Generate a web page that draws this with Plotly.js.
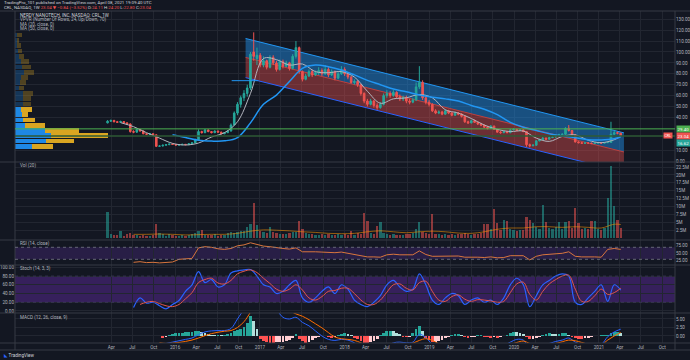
<!DOCTYPE html>
<html><head><meta charset="utf-8">
<script src="https://cdn.plot.ly/plotly-3.0.1.min.js"></script>
<style>html,body{margin:0;padding:0;background:#131722;}#chart{width:690px;height:360px;}</style>
</head><body><div id="chart"></div>
<script>
// ---------- data ----------
const firstBarDate = '2015-03-16';
const barDays = 14;
const opens = [35.0,36.5,37.2,36.0,35.5,36.2,35.0,34.0,27.0,26.5,
 29.0,27.5,25.0,24.5,25.0,24.0,13.5,13.8,14.5,15.0,
 15.5,15.2,14.6,14.9,15.3,15.0,15.8,16.6,19.5,27.0,
 26.0,28.5,27.0,26.0,27.5,26.5,25.0,26.0,27.5,33.0,
 44.0,52.0,58.0,62.0,67.0,100.0,94.0,97.0,88.0,92.0,
 86.0,95.0,90.0,84.0,91.0,87.0,90.0,85.0,96.0,104.0,
 82.0,75.0,78.0,82.0,79.0,81.0,83.0,80.0,84.0,79.0,
 82.0,76.0,80.0,84.0,80.0,77.0,72.0,73.0,70.0,62.0,
 55.0,52.0,55.0,51.0,49.0,52.0,60.0,62.0,60.0,63.0,
 59.0,57.0,58.0,55.0,54.0,56.0,68.0,72.0,58.0,54.0,
 52.0,46.0,44.0,45.0,43.0,46.0,44.0,42.0,44.0,43.0,
 41.0,36.0,35.0,37.0,35.5,34.0,33.0,31.0,30.0,32.0,
 29.0,26.5,26.0,27.0,26.0,28.5,29.0,28.0,28.5,27.0,
 15.0,14.0,14.5,18.5,19.5,21.0,20.0,21.5,22.0,23.5,
 24.0,24.5,30.0,28.0,24.0,17.5,16.8,16.2,16.6,16.4,
 16.0,16.5,16.7,16.4,16.8,17.0,24.5,26.0,25.5];
const closes = [36.5,37.2,36.0,35.5,36.2,35.0,34.0,27.0,26.5,29.0,
 27.5,25.0,24.5,25.0,24.0,13.5,13.8,14.5,15.0,15.5,
 15.2,14.6,14.9,15.3,15.0,15.8,16.6,19.5,27.0,26.0,
 28.5,27.0,26.0,27.5,26.5,25.0,26.0,27.5,33.0,44.0,
 52.0,58.0,62.0,67.0,98.0,96.0,97.0,88.0,92.0,86.0,
 95.0,90.0,84.0,91.0,87.0,90.0,85.0,96.0,104.0,82.0,
 75.0,78.0,82.0,79.0,81.0,83.0,80.0,84.0,79.0,82.0,
 76.0,80.0,84.0,80.0,77.0,72.0,73.0,70.0,62.0,55.0,
 52.0,55.0,51.0,49.0,52.0,60.0,62.0,60.0,63.0,59.0,
 57.0,58.0,55.0,54.0,56.0,68.0,72.0,58.0,54.0,52.0,
 46.0,44.0,45.0,43.0,46.0,44.0,42.0,44.0,43.0,41.0,
 36.0,35.0,37.0,35.5,34.0,33.0,31.0,30.0,32.0,29.0,
 26.5,26.0,27.0,26.0,28.5,29.0,28.0,28.5,27.0,15.0,
 14.0,14.5,18.5,19.5,21.0,20.0,21.5,22.0,23.5,24.0,
 24.5,30.0,28.0,24.0,17.5,16.8,16.2,16.6,16.4,16.0,
 16.5,16.7,16.4,16.8,17.0,24.5,26.0,25.5,23.0];
const highs = [37.5,38.0,37.8,36.8,37.0,36.6,35.4,34.5,28.2,29.8,
 29.5,27.9,25.6,25.8,25.4,24.3,14.6,15.0,15.6,16.2,
 16.0,15.5,15.4,15.8,15.6,16.3,17.2,20.5,29.0,27.8,
 29.4,28.9,27.4,28.2,27.9,26.9,26.6,28.2,34.5,45.5,
 54.0,60.0,65.0,70.0,100.0,118.0,104.0,99.0,96.0,93.0,
 97.0,97.0,92.0,93.0,93.0,92.0,91.0,98.0,110.0,105.0,
 83.0,80.0,84.0,84.0,83.0,86.0,85.0,88.0,86.0,84.0,
 83.0,82.0,87.0,86.0,81.0,78.0,75.0,74.0,71.0,63.0,
 57.0,57.0,56.0,53.0,54.0,62.0,65.0,64.0,65.0,64.0,
 61.0,60.0,60.0,57.0,58.0,72.0,87.0,74.0,60.0,56.0,
 53.0,47.5,46.5,46.0,47.5,47.0,45.0,45.5,45.0,44.0,
 41.5,37.0,38.0,38.0,36.0,35.0,33.5,32.0,33.0,32.5,
 29.5,27.5,28.0,27.5,29.5,30.0,29.5,29.0,29.0,27.5,
 16.0,15.5,19.0,20.5,22.0,21.5,22.5,23.0,24.5,25.0,
 25.5,31.0,33.0,28.5,24.5,18.0,17.5,17.2,17.0,16.9,
 17.0,17.2,17.0,17.3,17.5,36.0,28.0,27.0,26.0];
const lows = [34.5,35.8,35.5,35.0,35.1,34.6,33.2,26.0,25.5,26.0,
 27.0,24.6,23.8,24.1,23.5,12.8,12.9,13.4,14.2,14.6,
 14.8,14.2,14.3,14.7,14.5,14.8,15.6,16.4,19.0,25.2,
 25.5,26.4,25.4,25.6,26.0,24.5,24.6,25.6,27.0,32.5,
 42.0,49.0,55.0,59.0,65.0,92.0,88.0,86.0,86.0,84.0,
 85.0,88.0,82.0,83.0,85.0,86.0,83.0,84.0,94.0,80.0,
 73.0,74.0,77.0,77.0,78.0,79.0,78.0,79.0,77.0,78.0,
 74.0,75.0,79.0,78.0,75.0,71.0,70.0,68.0,60.0,53.0,
 50.0,51.0,49.0,47.0,48.0,51.0,58.0,58.0,59.0,57.0,
 55.0,55.0,53.0,52.0,53.0,55.0,66.0,56.0,52.0,50.0,
 45.0,43.0,43.0,42.0,42.5,43.0,41.0,41.5,42.0,40.0,
 35.0,34.0,34.5,35.0,33.0,32.0,30.5,29.0,29.5,28.5,
 26.0,25.0,25.5,25.5,25.5,28.0,27.5,27.5,26.5,13.0,
 12.5,13.5,14.0,18.0,19.0,19.5,19.5,21.0,21.5,23.0,
 23.5,24.0,27.0,23.5,17.0,16.2,15.8,15.9,15.9,15.6,
 15.8,16.2,16.0,16.2,16.5,16.8,24.0,24.5,22.8];
const volumesM = [8.2,1.2,0.9,1.0,2.2,0.8,1.3,1.5,0.9,1.1,
 0.8,1.0,0.7,0.8,0.9,4.4,1.5,1.2,0.8,1.3,
 0.9,0.7,0.8,1.0,0.7,0.9,1.2,1.5,2.3,2.5,
 1.1,0.9,1.0,1.2,0.8,1.0,1.1,1.5,1.8,1.6,
 2.0,2.4,2.2,3.6,4.6,11.2,4.1,2.2,1.8,1.5,
 3.6,2.0,1.6,1.4,1.2,1.3,1.5,2.0,1.8,5.4,
 3.0,1.6,1.3,1.2,1.0,1.1,1.4,1.0,1.2,0.9,
 1.1,1.3,1.0,1.2,1.0,2.3,1.1,1.5,1.3,8.0,
 5.4,1.5,1.2,3.9,5.1,1.6,1.2,1.0,1.3,1.1,
 0.9,1.0,1.2,1.4,1.6,3.0,5.0,2.0,1.5,1.3,
 7.5,1.4,1.2,1.0,1.3,1.1,1.2,1.0,1.4,1.2,
 1.5,1.3,1.1,1.2,1.4,1.6,4.4,4.4,3.0,9.1,
 4.7,2.5,5.7,5.5,2.8,2.5,2.3,2.6,2.5,6.8,
 5.7,4.7,3.5,3.0,10.5,5.1,3.2,2.8,3.5,5.2,
 3.0,5.1,5.4,3.3,9.5,4.7,2.8,3.2,3.0,5.4,
 5.4,3.0,2.6,3.2,12.6,22.9,10.2,5.7,3.2];
// sampled every 4th bar (plus last bar)
const volMA20 = [null,null,1.2,1.2,1.3,1.2,1.0,1.1,1.2,1.2,1.5,2.2,2.6,2.5,2.3,2.0,1.8,1.5,1.4,1.5,
 2.0,2.3,2.0,1.7,2.0,2.2,2.0,1.6,1.5,2.0,2.8,3.2,3.2,3.6,3.6,3.4,3.6,3.4,3.2,4.4,4.3];
const maFast = [null,35.2,31.5,26.0,21.0,16.2,14.7,16.5,22.0,26.0,36.0,62.0,94.0,93.0,88.0,89.0,82.0,81.0,82.0,77.0,
 64.0,53.0,57.0,58.0,61.0,58.0,47.0,44.0,39.0,33.0,29.0,27.0,27.5,21.0,18.0,22.5,24.0,19.0,16.8,19.5,22.5];
const maSlow = [null,null,null,null,null,24.0,21.5,19.0,18.3,18.5,21.5,35.0,52.0,60.5,73.0,85.0,88.0,86.5,83.5,79.0,
 74.0,70.0,66.0,63.5,60.5,58.5,57.0,55.0,51.0,47.5,42.5,35.5,31.0,28.0,25.0,23.0,21.4,19.5,19.3,20.5,22.3];
// sampled every 2nd bar
const rsi14 = [null,null,null,null,20,22,19,20,18,19,21,30,31,33,68,72,70,65,63,66,75,78,85,80,74,72,68,66,64,68,
 55,56,55,54,53,52,54,50,47,42,38,38,37,45,47,45,44,45,58,46,40,40,41,40,41,37,38,37,36,38,
 35,36,42,43,42,28,40,45,47,49,50,55,40,38,39,38,37,63,66,63];
const stochK = [null,null,null,null,8,30,18,20,12,5,15,24,45,60,90,65,72,55,60,87,92,94,95,80,60,55,40,45,60,70,
 30,20,30,45,55,40,60,50,25,15,10,20,35,60,70,55,45,50,85,60,25,15,30,40,35,15,25,30,20,25,
 15,30,60,75,60,10,35,60,70,80,85,80,20,15,30,45,60,22,60,48];
const stochD = [null,null,null,null,null,15,20,22,17,12,10,15,28,42,65,72,75,64,62,70,85,91,94,88,75,63,50,45,50,60,
 48,30,25,33,45,47,52,52,40,25,15,15,25,43,60,62,52,48,65,68,45,25,22,33,37,27,22,26,25,23,
 20,22,42,62,66,38,25,45,62,72,80,82,50,22,22,35,50,38,42,52];
const macdLine = [null,null,null,null,null,null,null,null,-2.5,-2.2,-1.8,-1.4,-1.0,-0.6,0.4,1.2,1.5,1.6,1.6,2.2,
 5.0,8.0,13.0,17.0,18.0,12.0,8.0,5.5,5.0,5.5,4.0,3.0,1.5,0.0,-1.0,-1.3,-1.0,-1.2,-2.0,-3.5,
 -5.0,-6.0,-5.0,-3.0,-2.0,-1.8,-2.0,-1.8,0.5,-0.5,-2.5,-4.0,-4.2,-3.5,-3.0,-3.2,-3.5,-3.3,-3.0,-3.0,
 -3.2,-2.8,-1.8,-1.0,-1.2,-3.5,-4.0,-3.0,-2.2,-1.6,-1.2,-0.6,-1.8,-2.5,-2.8,-2.8,-2.5,-0.2,1.2,2.0];
const macdSignal = [null,null,null,null,null,null,null,null,-2.0,-2.2,-2.1,-1.9,-1.6,-1.2,-0.6,0.1,0.7,1.1,1.4,1.6,
 2.5,4.2,7.0,10.5,13.5,14.5,13.0,9.0,7.5,6.5,5.8,4.8,3.6,2.4,1.0,-0.3,-0.8,-1.0,-1.3,-2.0,
 -3.0,-4.2,-4.8,-4.4,-3.6,-2.8,-2.4,-2.1,-1.3,-0.8,-1.3,-2.3,-3.2,-3.5,-3.3,-3.2,-3.3,-3.3,-3.2,-3.1,
 -3.1,-3.0,-2.6,-1.9,-1.5,-2.2,-3.0,-3.2,-2.8,-2.2,-1.7,-1.2,-1.4,-1.9,-2.4,-2.6,-2.6,-1.2,0.0,1.0];
const macdHist = [null,null,null,null,null,null,null,null,null,null,null,null,null,null,null,null,null,
 -0.5,-0.4,0.3,0.6,0.8,1.0,1.0,1.1,1.2,1.3,
 1.4,1.5,1.3,1.0,0.6,0.4,0.3,0.3,0.2,0.3,
 0.5,0.9,1.4,1.8,2.2,2.6,3.8,6.0,4.5,2.2,
 -0.8,-1.5,-1.9,-2.0,-2.0,-1.9,-1.8,-1.7,-1.6,-1.2,
 -0.6,0.5,-0.8,-1.6,-2.0,-1.8,-1.2,-0.6,-0.2,0.1,
 -0.1,-0.4,-0.5,-0.3,0.2,0.6,0.8,0.7,0.3,-0.5,
 -1.0,-1.6,-2.0,-2.0,-1.8,-1.4,-0.8,0.3,0.9,1.4,
 1.5,1.4,1.0,0.5,-0.2,-0.4,-0.3,0.8,2.0,2.8,
 1.5,-0.5,-1.2,-1.8,-1.7,-1.5,-1.1,-0.7,-0.3,0.3,
 0.5,0.6,0.3,-0.3,-0.5,-0.4,-0.2,0.2,0.3,-0.2,
 -0.4,-0.5,-0.4,-0.5,-0.3,-0.1,0.4,0.9,1.3,1.2,
 0.9,0.5,-0.4,-1.0,-0.9,-0.6,-0.2,0.3,0.6,0.8,
 0.7,0.6,0.6,0.8,0.9,0.3,-0.3,-0.7,-0.8,-0.8,
 -0.7,-0.5,-0.3,-0.1,0.1,0.2,0.3,0.4,0.9,1.1,
 1.1,1.0];
// volume profile (rows from bottom), up / down volume
const vpPrices = [13.4,18.3,23.2,28.0,32.9,37.7,42.6,47.5,52.3,57.2,62.0,66.9,71.8,76.6,81.5,86.3,91.2,96.1,100.9,105.8,110.6,115.5];
const vpUp   = [33,61,71,60,20,15,13,11,16,16,16,8,10,12,18,14,12,7,5,4,3,3];
const vpDown = [43,57,114,67,39,25,13,22,15,15,19,9,12,13,19,18,15,10,9,7,5,10];
const vpValueArea = [1,1,1,1,1,1,1,1,0,0,0,0,0,0,0,0,0,0,0,0,0,0];
// regression channel
const channelDates = ['2016-10-31','2021-04-19'];
const channelTop = [112.4, 25.8];
const channelMid = [95.0, 8.3];
const channelBot = [76.5, -10.1];
const levelLines = [29.5, 23.0];
const shortLineDates = ['2016-09-01','2016-12-25'];
const shortLineLevel = 73.7;
const tickDates = ['2015-04-01','2015-07-01','2015-10-01','2016-01-01','2016-04-01','2016-07-01','2016-10-01',
 '2017-01-01','2017-04-01','2017-07-01','2017-10-01','2018-01-01','2018-04-01','2018-07-01','2018-10-01',
 '2019-01-01','2019-04-01','2019-07-01','2019-10-01','2020-01-01','2020-04-01','2020-07-01','2020-10-01',
 '2021-01-01','2021-04-01','2021-07-01','2021-10-01'];
const tickLabels = ['Apr','Jul','Oct','2016','Apr','Jul','Oct','2017','Apr','Jul','Oct','2018','Apr','Jul','Oct',
 '2019','Apr','Jul','Oct','2020','Apr','Jul','Oct','2021','Apr','Jul','Oct'];
const volTicks = [2.5,5,7.5,10,12.5,15,17.5,20,22.5];
const volTickLabels = ['2.5M','5M','7.5M','10M','12.5M','15M','17.5M','20M','22.5M'];

// ---------- build ----------
const t0 = new Date(firstBarDate + 'T00:00:00Z').getTime();
const dates = closes.map((_, i) => new Date(t0 + i * barDays * 86400000).toISOString().slice(0, 10));
function sampleIdx(n) { const a = []; for (let i = 0; i < dates.length; i += n) a.push(i); if (a[a.length-1] !== dates.length-1) a.push(dates.length-1); return a; }
const idx4 = sampleIdx(4).map(i => dates[i]);
const idx2 = sampleIdx(2).map(i => dates[i]);

const UP = '#26a69a', DN = '#ef5350';
const TXT = '#b2b5be', GRID = '#222631', SEP = '#363a45';
const FONT = 'Roboto, "DejaVu Sans", sans-serif';
const xr = ['2014-02-10', '2021-11-25'];

const volColors = closes.map((c, i) => c >= opens[i] ? 'rgba(38,166,154,0.55)' : 'rgba(239,83,80,0.55)');
const histColors = macdHist.map((v, i) => {
  if (v == null) return 'rgba(0,0,0,0)';
  const p = (i > 0 && macdHist[i-1] != null) ? macdHist[i-1] : 0;
  return v >= 0 ? (v >= p ? '#26a69a' : '#b2dfdb') : (v <= p ? '#ff5252' : '#ffcdd2');
});
const vpUpCol = vpValueArea.map(a => a ? '#1e88e5' : 'rgba(30,136,229,0.28)');
const vpDnCol = vpValueArea.map(a => a ? '#d9a521' : 'rgba(217,165,33,0.30)');

const traces = [
  // regression channel (base subplot, below candles)
  {type:'scatter', mode:'lines', x:channelDates, y:channelBot, xaxis:'x', yaxis:'y', line:{color:'#2962ff', width:1}, hoverinfo:'skip'},
  {type:'scatter', mode:'lines', x:channelDates, y:channelMid, xaxis:'x', yaxis:'y', line:{color:'#c2403d', width:1}, fill:'tonexty', fillcolor:'rgba(239,83,80,0.40)', hoverinfo:'skip'},
  {type:'scatter', mode:'lines', x:channelDates, y:channelTop, xaxis:'x', yaxis:'y', line:{color:'#2196f3', width:1}, fill:'tonexty', fillcolor:'rgba(33,150,243,0.45)', hoverinfo:'skip'},
  // candles on overlay axis
  {type:'candlestick', x:dates, open:opens, high:highs, low:lows, close:closes, xaxis:'x3', yaxis:'y',
   increasing:{line:{color:UP, width:1}, fillcolor:UP}, decreasing:{line:{color:DN, width:1}, fillcolor:DN},
   whiskerwidth:0, hoverinfo:'skip'},
  {type:'scatter', mode:'lines', x:idx4, y:maFast, xaxis:'x3', yaxis:'y', line:{color:'#b2b5be', width:1, shape:'spline'}, hoverinfo:'skip'},
  {type:'scatter', mode:'lines', x:idx4, y:maSlow, xaxis:'x3', yaxis:'y', line:{color:'#2196f3', width:1.5, shape:'spline'}, hoverinfo:'skip'},
  // volume profile
  {type:'bar', orientation:'h', y:vpPrices, x:vpUp, xaxis:'x2', yaxis:'y', width:4.4, marker:{color:vpUpCol}, hoverinfo:'skip'},
  {type:'bar', orientation:'h', y:vpPrices, x:vpDown, xaxis:'x2', yaxis:'y', width:4.4, marker:{color:vpDnCol}, hoverinfo:'skip'},
  // volume
  {type:'bar', x:dates, y:volumesM, xaxis:'x', yaxis:'y2', width:barDays*86400000*0.7, marker:{color:volColors}, hoverinfo:'skip'},
  {type:'scatter', mode:'lines', x:idx4, y:volMA20, xaxis:'x', yaxis:'y2', line:{color:'rgba(255,152,0,0.55)', width:1, shape:'spline'}, hoverinfo:'skip'},
  // RSI
  {type:'scatter', mode:'lines', x:idx2, y:rsi14, xaxis:'x', yaxis:'y3', line:{color:'#d8763e', width:1}, hoverinfo:'skip'},
  // Stoch
  {type:'scatter', mode:'lines', x:idx2, y:stochK, xaxis:'x', yaxis:'y4', line:{color:'#2962ff', width:1.2, shape:'spline'}, hoverinfo:'skip'},
  {type:'scatter', mode:'lines', x:idx2, y:stochD, xaxis:'x', yaxis:'y4', line:{color:'#e2574c', width:1, shape:'spline'}, hoverinfo:'skip'},
  // MACD
  {type:'bar', x:dates, y:macdHist, xaxis:'x', yaxis:'y5', width:barDays*86400000*0.85, marker:{color:histColors}, hoverinfo:'skip'},
  {type:'scatter', mode:'lines', x:idx2, y:macdLine, xaxis:'x', yaxis:'y5', line:{color:'#2962ff', width:1, shape:'spline'}, hoverinfo:'skip'},
  {type:'scatter', mode:'lines', x:idx2, y:macdSignal, xaxis:'x', yaxis:'y5', line:{color:'#ff6d00', width:1, shape:'spline'}, hoverinfo:'skip'}
];

const py = p => (343 - p) / 332;   // pixel row -> paper y
const px = p => (p - 15) / 660;    // pixel col -> paper x
const tickFont = {family:FONT, size:4.6, color:TXT};
const yBase = {showgrid:true, gridcolor:GRID, zeroline:false, showline:false, ticks:'', fixedrange:true, tickfont:tickFont, automargin:false};

const shapes = [];
// pane separators
[11, 162, 240, 265, 313, 343, 350].forEach(v => shapes.push({type:'line', xref:'paper', yref:'paper', x0:px(0), x1:px(690), y0:py(v), y1:py(v), line:{color:SEP, width:1}}));
[15, 675].forEach(v => shapes.push({type:'line', xref:'paper', yref:'paper', x0:px(v), x1:px(v), y0:py(11), y1:py(350), line:{color:SEP, width:1}}));
// RSI band
shapes.push({type:'rect', xref:'paper', yref:'y3', x0:0, x1:1, y0:30, y1:70, fillcolor:'rgba(120,60,200,0.22)', line:{width:0}, layer:'below'});
[30, 70].forEach(v => shapes.push({type:'line', xref:'paper', yref:'y3', x0:0, x1:1, y0:v, y1:v, line:{color:'#787b86', width:0.8, dash:'dot'}}));
// Stoch band
shapes.push({type:'rect', xref:'paper', yref:'y4', x0:0, x1:1, y0:20, y1:80, fillcolor:'rgba(120,50,200,0.35)', line:{width:0}, layer:'below'});
[20, 80].forEach(v => shapes.push({type:'line', xref:'paper', yref:'y4', x0:0, x1:1, y0:v, y1:v, line:{color:'#4a3f6b', width:0.6, dash:'dot'}}));
// horizontal levels
shapes.push({type:'line', xref:'paper', yref:'y', x0:0, x1:1, y0:levelLines[0], y1:levelLines[0], line:{color:'#4caf50', width:1}});
shapes.push({type:'line', xref:'paper', yref:'y', x0:0, x1:1, y0:levelLines[1], y1:levelLines[1], line:{color:'#2e5a34', width:1.6}});
shapes.push({type:'line', xref:'x', yref:'y', x0:shortLineDates[0], x1:shortLineDates[1], y0:shortLineLevel, y1:shortLineLevel, line:{color:'#2196f3', width:1}});

const ann = (x, y, text, opt = {}) => Object.assign({xref:'paper', yref:'paper', x:x, y:y, text:text, showarrow:false, xanchor:'left', yanchor:'middle', font:{family:FONT, size:4.6, color:TXT}}, opt);
const annotations = [
  ann(px(2), py(2.7), 'TradingPro_101 published on TradingView.com, April 08, 2021 19:09:40 UTC', {font:{family:FONT, size:4.4, color:'#d1d4dc'}}),
  ann(px(2), py(7), 'CRL, NASDAQ, 1W <span style="color:#ef5350">23.04 ▼ −0.84 (−3.52%)</span> O:<span style="color:#ef5350">24.11</span> H:<span style="color:#ef5350">24.20</span> L:<span style="color:#ef5350">22.80</span> C:<span style="color:#ef5350">23.04</span>', {font:{family:FONT, size:4.4, color:'#d1d4dc'}}),
  ann(px(17.5), py(15), 'NERDY NANOTECH, INC, NASDAQ: CRL, 1W', {font:{family:FONT, size:4.6, color:'#d1d4dc'}}),
  ann(px(17.5), py(19.5), 'VPVR (Number Of Rows, 24, Up/Down, 70)'),
  ann(px(17.5), py(24), 'MA (20, close, 0)'),
  ann(px(17.5), py(28.3), 'MA (50, close, 0)'),
  ann(px(17.5), py(165.5), 'Vol (20)'),
  ann(px(17.5), py(243.5), 'RSI (14, close)'),
  ann(px(17.5), py(268.5), 'Stoch (14, 3, 3)'),
  ann(px(17.5), py(317), 'MACD (12, 26, close, 9)'),
  ann(px(2), py(355.5), '<span style="color:#2962ff">◣</span> TradingView', {font:{family:FONT, size:4.6, color:'#d1d4dc'}}),
  // right-axis price tags
  {xref:'paper', yref:'y', x:1.002, y:levelLines[0], text:'29.40', showarrow:false, xanchor:'left', yanchor:'middle', bgcolor:'#4caf50', borderpad:0.6, font:{family:FONT, size:4.4, color:'#ffffff'}},
  {xref:'paper', yref:'y', x:1.002, y:levelLines[1], text:'23.04', showarrow:false, xanchor:'left', yanchor:'middle', bgcolor:'#ef5350', borderpad:0.6, font:{family:FONT, size:4.4, color:'#ffffff'}},
  {xref:'paper', yref:'y', x:1.002, y:16.6, text:'16.62', showarrow:false, xanchor:'left', yanchor:'middle', bgcolor:'#26a69a', borderpad:0.6, font:{family:FONT, size:4.4, color:'#ffffff'}},
  {xref:'paper', yref:'y', x:px(673), y:levelLines[1], text:'CRL', showarrow:false, xanchor:'right', yanchor:'middle', bgcolor:'#ef5350', borderpad:0.5, font:{family:FONT, size:3.6, color:'#ffffff'}}
];

const layout = {
  width:690, height:360,
  margin:{l:15, r:15, t:11, b:17, pad:0},
  paper_bgcolor:'#131722', plot_bgcolor:'#131722',
  showlegend:false, hovermode:false, barmode:'stack', bargap:0,
  font:{family:FONT, size:5, color:TXT},
  xaxis:{type:'date', range:xr, domain:[0,1], anchor:'y5', tickvals:tickDates, ticktext:tickLabels, showgrid:true, gridcolor:GRID,
         zeroline:false, showline:false, ticks:'', tickfont:tickFont, fixedrange:true, automargin:false},
  xaxis2:{overlaying:'x', range:[0,1320], visible:false, anchor:'y', fixedrange:true},
  xaxis3:{type:'date', overlaying:'x', range:xr, visible:false, anchor:'y', rangeslider:{visible:false}, fixedrange:true},
  yaxis:Object.assign({}, yBase, {domain:[py(162),1], range:[-0.9,137.6], side:'right', anchor:'x', tickvals:[0,10,40,50,60,70,80,90,100,110,120,130], tickformat:'.2f'}),
  yaxis2:Object.assign({}, yBase, {domain:[py(240),py(162)], range:[-0.6,24.1], side:'right', anchor:'x', tickvals:volTicks, ticktext:volTickLabels}),
  yaxis3:Object.assign({}, yBase, {domain:[py(265),py(240)], range:[11,94.3], side:'right', anchor:'x', tickvals:[25,50,75], tickformat:'.2f', showgrid:false}),
  yaxis4:Object.assign({}, yBase, {domain:[py(313),py(265)], range:[-4.6,105.3], side:'left', anchor:'x', tickvals:[0,20,40,60,80,100], tickformat:'.2f'}),
  yaxis5:Object.assign({}, yBase, {domain:[0,py(313)], range:[-2.06,6.76], side:'right', anchor:'x', tickvals:[0,2.5,5], tickformat:'.2f'}),
  shapes:shapes, annotations:annotations
};

Plotly.newPlot('chart', traces, layout, {staticPlot:true, displayModeBar:false});
</script></body></html>
